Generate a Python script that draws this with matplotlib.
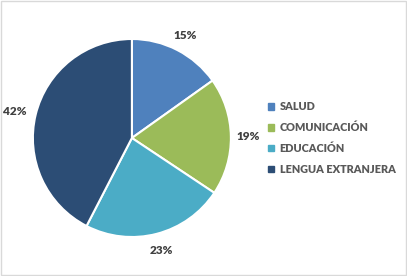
import matplotlib
matplotlib.use("Agg")
import matplotlib.pyplot as plt
from matplotlib.patches import Rectangle

# Datos
categorias = ["SALUD", "COMUNICACIÓN", "EDUCACIÓN", "LENGUA EXTRANJERA"]
porcentajes = [15, 19, 23, 42]
colores = ["#4F81BD", "#9BBB59", "#4BACC6", "#2C4D75"]

plt.rcParams["font.family"] = ["Lato", "DejaVu Sans"]

fig = plt.figure(figsize=(4.07, 2.76), dpi=100)
fig.patches.append(Rectangle((0.002, 0.003), 0.995, 0.993, transform=fig.transFigure,
                             fill=False, edgecolor="#D9D9D9", linewidth=1))

ax = fig.add_axes([0.324 - 0.2432, 0.5 - 0.3587, 0.4865, 0.7174])
wedges, textos, pcts = ax.pie(
    porcentajes, colors=colores, startangle=90, counterclock=False,
    autopct="%d%%", pctdistance=1.17,
    wedgeprops=dict(edgecolor="white", linewidth=1.5),
    textprops=dict(color="#404040", fontsize=8.5, fontweight="heavy"))
ax.set_xlim(-1, 1)
ax.set_ylim(-1, 1)
ax.set_aspect("equal")

# la etiqueta del 42% va a la izquierda, como en el original
pcts[3].set_position((-1.18, 0.27))

handles = [Rectangle((0, 0), 1, 1, color=c) for c in colores]
fig.legend(handles, categorias, loc="center left", bbox_to_anchor=(0.635, 0.5),
           frameon=False, handlelength=0.55, handleheight=0.55, handletextpad=0.5,
           labelspacing=0.9, prop=dict(size=7.8, weight="heavy"), labelcolor="#595959")

fig.savefig("out.png", dpi=100)
